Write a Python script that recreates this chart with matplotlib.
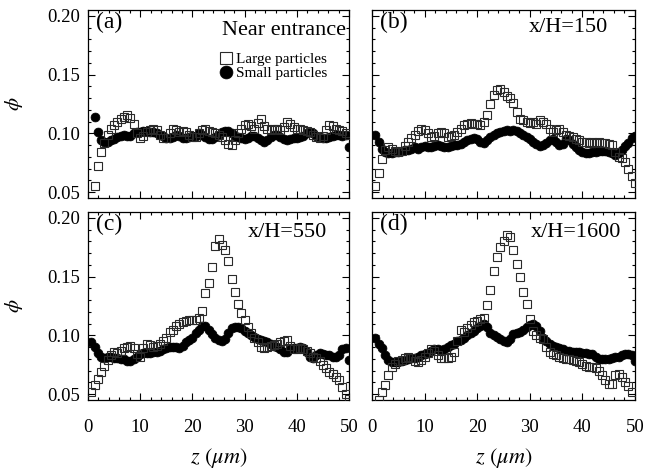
import numpy as np
import matplotlib
matplotlib.use("Agg")
import matplotlib.pyplot as plt
from matplotlib.ticker import MultipleLocator, FormatStrFormatter

nan = np.nan
# sampling positions across the channel (um)
z = np.arange(1, 81) * 0.625

# (a) near entrance
a_large = [nan, 0.055, 0.072, 0.084, 0.092, 0.099, 0.104, 0.107, 0.110, 0.112,
           0.114, 0.116, 0.113, 0.108, 0.100, 0.096, 0.098, 0.101, 0.103, 0.104,
           0.103, 0.099, 0.096, 0.096, 0.100, 0.104, 0.103, 0.101, 0.102, 0.101,
           0.099, 0.097, 0.097, 0.100, 0.103, 0.104, 0.102, 0.101, 0.100, 0.099,
           0.097, 0.094, 0.091, 0.090, 0.094, 0.100, 0.104, 0.107, 0.108, 0.106,
           0.104, 0.109, 0.112, 0.106, 0.104, 0.103, 0.104, 0.104, 0.103, 0.105,
           0.110, 0.108, 0.105, 0.104, 0.104, 0.103, 0.102, 0.101, 0.099, 0.097,
           0.096, 0.098, 0.103, 0.107, 0.106, 0.104, 0.103, 0.102, 0.100, 0.099]
a_small = [nan, 0.114, 0.101, 0.094, 0.093, 0.093, 0.094, 0.095, 0.097, 0.098,
           0.099, 0.098, 0.098, 0.100, 0.101, 0.101, 0.102, 0.102, 0.101, 0.101,
           0.100, 0.099, 0.098, 0.096, 0.096, 0.097, 0.099, 0.098, 0.096, 0.096,
           0.097, 0.098, 0.098, 0.100, 0.099, 0.097, 0.095, 0.095, 0.097, 0.099,
           0.101, 0.102, 0.102, 0.100, 0.098, 0.097, 0.096, 0.095, 0.096, 0.098,
           0.098, 0.096, 0.094, 0.093, 0.094, 0.097, 0.099, 0.099, 0.097, 0.095,
           0.094, 0.095, 0.096, 0.096, 0.097, 0.098, 0.100, 0.101, 0.100, 0.098,
           0.097, 0.096, 0.096, 0.097, 0.098, 0.099, 0.099, 0.098, 0.099, 0.088]

# (b) x/H = 150
b_large = [0.055, 0.066, 0.078, 0.086, 0.088, 0.087, 0.085, 0.084, 0.085, 0.089,
           0.093, 0.096, 0.099, 0.102, 0.104, 0.103, 0.100, 0.097, 0.098, 0.100,
           0.101, 0.100, 0.097, 0.098, 0.099, 0.101, 0.104, 0.107, 0.108, 0.109,
           0.108, 0.108, 0.107, 0.110, 0.116, 0.125, 0.133, 0.137, 0.138, 0.135,
           0.132, 0.130, 0.126, 0.118, 0.112, 0.111, 0.110, 0.109, 0.110, 0.108,
           0.111, 0.110, 0.108, 0.104, 0.101, 0.103, 0.104, 0.101, 0.099, 0.098,
           0.097, 0.095, 0.094, 0.093, 0.093, 0.092, 0.093, 0.092, 0.093, 0.092,
           0.092, 0.091, 0.090, 0.084, 0.080, 0.079, 0.076, 0.070, 0.064, 0.058]
b_small = [0.099, 0.093, 0.087, 0.084, 0.083, 0.083, 0.084, 0.084, 0.085, 0.086,
           0.086, 0.087, 0.088, 0.087, 0.088, 0.089, 0.088, 0.088, 0.089, 0.090,
           0.089, 0.088, 0.088, 0.089, 0.090, 0.090, 0.091, 0.093, 0.094, 0.095,
           0.096, 0.095, 0.093, 0.092, 0.094, 0.097, 0.099, 0.100, 0.101, 0.102,
           0.103, 0.102, 0.103, 0.102, 0.100, 0.099, 0.097, 0.095, 0.093, 0.091,
           0.089, 0.090, 0.092, 0.094, 0.095, 0.093, 0.090, 0.091, 0.095, 0.094,
           0.091, 0.088, 0.086, 0.084, 0.083, 0.083, 0.084, 0.084, 0.085, 0.085,
           0.085, 0.084, 0.083, 0.082, 0.083, 0.086, 0.089, 0.092, 0.096, 0.098]

# (c) x/H = 550
c_large = [0.052, 0.058, 0.063, 0.069, 0.074, 0.079, 0.083, 0.086, 0.085, 0.087,
           0.089, 0.090, 0.091, 0.089, 0.084, 0.082, 0.089, 0.093, 0.092, 0.090,
           0.091, 0.093, 0.095, 0.098, 0.103, 0.105, 0.108, 0.110, 0.111, 0.112,
           0.113, 0.113, 0.113, 0.115, 0.121, 0.136, 0.145, 0.158, 0.176, 0.182,
           0.177, 0.173, 0.163, 0.148, 0.137, 0.127, 0.119, 0.113, 0.107, 0.102,
           0.098, 0.094, 0.090, 0.089, 0.090, 0.091, 0.092, 0.093, 0.094, 0.095,
           0.096, 0.091, 0.088, 0.088, 0.089, 0.088, 0.087, 0.085, 0.082, 0.081,
           0.078, 0.075, 0.072, 0.069, 0.067, 0.065, 0.062, 0.056, 0.050, 0.046]
c_small = [0.094, 0.090, 0.085, 0.082, 0.081, 0.082, 0.082, 0.081, 0.081, 0.080,
           0.080, 0.078, 0.078, 0.080, 0.082, 0.084, 0.085, 0.085, 0.085, 0.086,
           0.086, 0.087, 0.088, 0.089, 0.090, 0.090, 0.090, 0.089, 0.091, 0.094,
           0.096, 0.098, 0.102, 0.105, 0.108, 0.108, 0.105, 0.101, 0.098, 0.096,
           0.095, 0.097, 0.102, 0.106, 0.107, 0.107, 0.106, 0.104, 0.102, 0.100,
           0.099, 0.097, 0.096, 0.095, 0.094, 0.093, 0.091, 0.090, 0.088, 0.086,
           0.086, 0.088, 0.089, 0.089, 0.090, 0.089, 0.086, 0.082, 0.081, 0.083,
           0.085, 0.084, 0.083, 0.083, 0.082, 0.082, 0.083, 0.088, 0.089, 0.079]

# (d) x/H = 1600
d_large = [nan, 0.045, 0.052, 0.058, 0.066, 0.073, 0.076, 0.078, 0.079, 0.081,
           0.082, 0.081, 0.078, 0.077, 0.079, 0.082, 0.085, 0.088, 0.087, 0.083,
           0.081, 0.081, 0.081, 0.082, 0.086, 0.095, 0.105, 0.103, 0.106, 0.109,
           0.111, 0.112, 0.114, 0.115, 0.126, 0.139, 0.155, 0.167, 0.175, 0.180,
           0.185, 0.184, 0.173, 0.161, 0.150, 0.137, 0.127, 0.114, 0.104, 0.100,
           0.098, 0.097, 0.090, 0.086, 0.084, 0.083, 0.082, 0.081, 0.080, 0.080,
           0.079, 0.078, 0.077, 0.076, 0.074, 0.073, 0.073, 0.072, 0.070, 0.066,
           0.062, 0.059, 0.059, 0.066, 0.067, 0.065, 0.060, 0.057, 0.052, nan]
d_small = [0.098, 0.093, 0.089, 0.083, 0.079, 0.077, 0.077, 0.077, 0.078, 0.079,
           0.080, 0.081, 0.081, 0.082, 0.083, 0.084, 0.085, 0.087, 0.088, 0.088,
           0.087, 0.088, 0.090, 0.092, 0.093, 0.095, 0.096, 0.098, 0.100, 0.102,
           0.104, 0.106, 0.108, 0.110, 0.107, 0.102, 0.100, 0.099, 0.097, 0.095,
           0.094, 0.097, 0.101, 0.102, 0.103, 0.105, 0.107, 0.109, 0.110, 0.108,
           0.104, 0.098, 0.095, 0.093, 0.091, 0.090, 0.089, 0.088, 0.087, 0.087,
           0.086, 0.086, 0.086, 0.085, 0.085, 0.084, 0.084, 0.082, 0.080, 0.080,
           0.080, 0.080, 0.081, 0.082, 0.082, 0.083, 0.084, 0.084, 0.083, 0.078]

panel_tags = ["(a)", "(b)", "(c)", "(d)"]
panel_titles = ["Near entrance", "x/H=150", "x/H=550", "x/H=1600"]
legend_labels = ["Large particles", "Small particles"]
xticks = [0, 10, 20, 30, 40, 50]
yticks = [0.05, 0.10, 0.15, 0.20]

plt.rcParams['font.family'] = ['Liberation Serif', 'DejaVu Serif']
plt.rcParams['mathtext.fontset'] = 'stix'

W, H = 647, 470
fig = plt.figure(figsize=(W / 100, H / 100), dpi=100)

def ax_rect(x0, y0, x1, y1):
    return [x0 / W, 1 - y1 / H, (x1 - x0) / W, (y1 - y0) / H]

rects = [ax_rect(88, 10, 349, 198), ax_rect(372, 10, 635, 198),
         ax_rect(88, 212, 349, 400), ax_rect(372, 212, 635, 400)]
larges = [a_large, b_large, c_large, d_large]
smalls = [a_small, b_small, c_small, d_small]
title_pos = [(0.99, 0.867), (0.897, 0.885), (0.916, 0.869), (0.949, 0.869)]

for k in range(4):
    ax = fig.add_axes(rects[k])
    ax.plot(z, smalls[k], 'o', ms=6.4, mfc='black', mec='black', mew=0.5,
            label=legend_labels[1], zorder=2)
    ax.plot(z, larges[k], 's', ms=6.2, mfc='none', mec='#2a2a2a', mew=0.8,
            label=legend_labels[0], zorder=3)
    ax.set_xlim(0, 50)
    ax.set_ylim(0.045, 0.205)
    ax.set_xticks(xticks)
    ax.set_yticks(yticks)
    ax.xaxis.set_minor_locator(MultipleLocator(2))
    ax.yaxis.set_minor_locator(MultipleLocator(0.01))
    ax.yaxis.set_major_formatter(FormatStrFormatter('%.2f'))
    ax.tick_params(which='both', direction='in', top=True, right=True,
                   width=0.8, labelsize=13.5, colors='black')
    ax.tick_params(which='major', length=5)
    ax.tick_params(which='minor', length=2.5)
    for s in ax.spines.values():
        s.set_linewidth(0.9)
    if k in (1, 3):
        ax.tick_params(labelleft=False)
    else:
        ax.set_ylabel(r'$\phi$', fontsize=15, labelpad=16, rotation=90)
    if k in (0, 1):
        ax.tick_params(labelbottom=False)
    else:
        ax.set_xlabel(r'$z\ (\mu m)$', fontsize=16, labelpad=7)
        ax.tick_params(axis='x', pad=14)
    ax.tick_params(axis='y', pad=6)
    ax.text(0.03, 0.903, panel_tags[k], transform=ax.transAxes, fontsize=17,
            ha='left', va='baseline')
    ax.text(title_pos[k][0], title_pos[k][1], panel_titles[k],
            transform=ax.transAxes, fontsize=16, ha='right', va='baseline')
    if k == 0:
        h, l = ax.get_legend_handles_labels()
        ax.legend(h[::-1], l[::-1], loc='center left',
                  bbox_to_anchor=(0.50, 0.70), frameon=False, fontsize=11,
                  handlelength=1.0, handletextpad=0.15, borderpad=0,
                  borderaxespad=0, labelspacing=0.0, markerscale=1.45)

fig.savefig('out.png', dpi=100)
